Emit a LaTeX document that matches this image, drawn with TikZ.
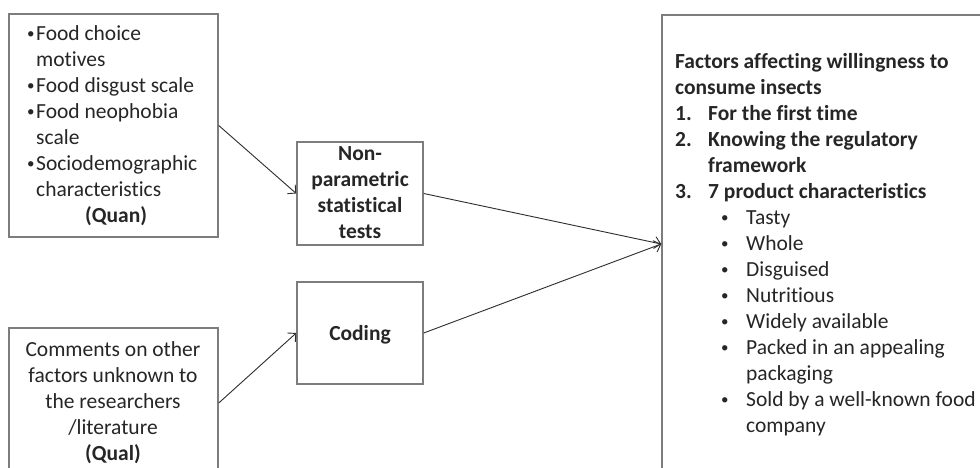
\documentclass[tikz,border=0pt]{standalone}
\usepackage{fontspec}
\setmainfont{Carlito}[Ligatures=NoCommon]
\usetikzlibrary{arrows.meta}
\definecolor{txtc}{RGB}{38,38,38}
\definecolor{boxc}{RGB}{125,125,125}
\definecolor{arrc}{RGB}{45,45,45}
\newcommand{\smbul}{\raisebox{2pt}{\fontsize{15}{15}\selectfont •}}
\begin{document}
\begin{tikzpicture}[x=1pt,y=-1pt,
  box/.style={draw=boxc, line width=1.5pt, rectangle, inner sep=0pt},
  txt/.style={text=txtc, inner sep=0pt, font=\fontsize{21.5}{26}\selectfont},
  conn/.style={draw=arrc, line width=0.9pt, -{Straight Barb[length=6pt,width=12pt]}}]
\useasboundingbox (0,0) rectangle (980,468);
\clip (0,0) rectangle (980,468);
\fill[white] (0,0) rectangle (980,468);
% boxes
\node[box, minimum width=209pt, minimum height=223pt] (quan) at (113.5,125.5) {};
\node[box, minimum width=209pt, minimum height=150pt] (qual) at (113.5,403) {};
\node[box, minimum width=126pt, minimum height=103pt] (np) at (360,193.5) {};
\node[box, minimum width=126pt, minimum height=102pt] (cod) at (360,333) {};
\node[box, minimum width=338pt, minimum height=458pt] (fac) at (831,244) {};
% texts
\node[txt, anchor=west] (quant) at (27,126) {\begin{tabular}{@{}l@{}}
\makebox[9pt][l]{\smbul}Food choice\\
\hspace*{9pt}motives\\
\makebox[9pt][l]{\smbul}Food disgust scale\\
\makebox[9pt][l]{\smbul}Food neophobia\\
\hspace*{9pt}scale\\
\makebox[9pt][l]{\smbul}Sociodemographic\\
\hspace*{9pt}characteristics\\
\hspace*{58pt}\textbf{(Quan)}
\end{tabular}};
\node[txt] (qualt) at (113,403) {\begin{tabular}{@{}c@{}}
Comments on other\\
factors unknown to\\
the researchers\\
/literature\\
\textbf{(Qual)}
\end{tabular}};
\node[txt] (npt) at (360,194.5) {\begin{tabular}{@{}c@{}}
\textbf{Non-}\\
\textbf{parametric}\\
\textbf{statistical}\\
\textbf{tests}
\end{tabular}};
\node[txt] (codt) at (360,335) {\textbf{Coding}};
\node[txt, anchor=west] (fact) at (675,245) {\begin{tabular}{@{}l@{}}
\textbf{Factors affecting willingness to}\\
\textbf{consume insects}\\
\textbf{\makebox[33pt][l]{1.}For the first time}\\
\textbf{\makebox[33pt][l]{2.}Knowing the regulatory}\\
\textbf{\hspace*{33pt}framework}\\
\textbf{\makebox[33pt][l]{3.}7 product characteristics}\\
\hspace*{46pt}\makebox[25pt][l]{\smbul}Tasty\\
\hspace*{46pt}\makebox[25pt][l]{\smbul}Whole\\
\hspace*{46pt}\makebox[25pt][l]{\smbul}Disguised\\
\hspace*{46pt}\makebox[25pt][l]{\smbul}Nutritious\\
\hspace*{46pt}\makebox[25pt][l]{\smbul}Widely available\\
\hspace*{46pt}\makebox[25pt][l]{\smbul}Packed in an appealing\\
\hspace*{71pt}packaging\\
\hspace*{46pt}\makebox[25pt][l]{\smbul}Sold by a well-known food\\
\hspace*{71pt}company
\end{tabular}};
% connectors
\draw[conn] (quan.east) -- (np.west);
\draw[conn] (np.east) -- (fac.west);
\draw[conn] (qual.east) -- (cod.west);
\draw[conn] (cod.east) -- (fac.west);
\end{tikzpicture}
\end{document}
